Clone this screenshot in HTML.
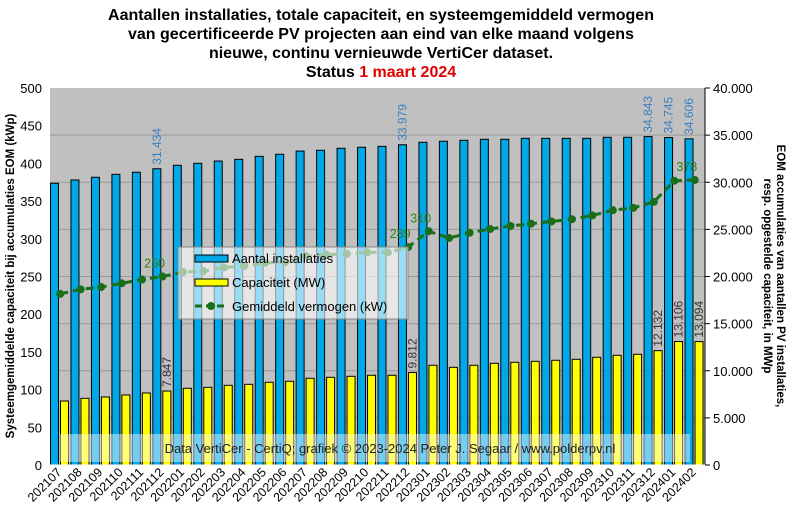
<!DOCTYPE html>
<html><head><meta charset="utf-8"><style>
body{margin:0;background:#fff;width:791px;height:517px;overflow:hidden}
svg{display:block;font-family:"Liberation Sans","DejaVu Sans",sans-serif}
</style></head><body>
<svg id="chart" width="791" height="517">
<g font-weight="bold" font-size="16" text-anchor="middle" fill="#000">
<text x="381" y="20">Aantallen installaties, totale capaciteit, en systeemgemiddeld vermogen</text>
<text x="381" y="39">van gecertificeerde PV projecten aan eind van elke maand volgens</text>
<text x="381" y="58">nieuwe, continu vernieuwde VertiCer dataset.</text>
<text x="381" y="77">Status <tspan fill="#e00000">1 maart 2024</tspan></text>
</g>
<rect x="50" y="88" width="655" height="377" fill="#c0c0c0"/>
<g id="grid"></g>
<g id="bars"></g>
<g id="line"></g>
<g id="axes"></g>
<g>
<rect x="178" y="247" width="230" height="72" fill="#fff" fill-opacity="0.6" stroke="#888"/>
<rect x="195" y="255" width="33" height="7" fill="#00a8e8" stroke="#000"/>
<text x="232" y="263" font-size="13">Aantal installaties</text>
<rect x="195" y="279" width="33" height="7" fill="#ffff00" stroke="#000"/>
<text x="232" y="287" font-size="13">Capaciteit (MW)</text>
<line x1="195" y1="306" x2="228" y2="306" stroke="#1a6e1a" stroke-width="3" stroke-dasharray="7,4"/>
<circle cx="211" cy="306" r="4" fill="#1a6e1a"/>
<text x="232" y="311" font-size="13">Gemiddeld vermogen (kW)</text>
</g>
<g>
<rect x="60" y="434" width="630" height="28" fill="#ffffff" fill-opacity="0.45"/>
<text x="390" y="453" font-size="13" text-anchor="middle" fill="#222">Data VertiCer  - CertiQ; grafiek  © 2023-2024  Peter J. Segaar / www.polderpv.nl</text>
</g>
<text transform="translate(14,276) rotate(-90)" font-size="11.5" font-weight="bold" text-anchor="middle">Systeemgemiddelde capaciteit bij accumulaties EOM (kWp)</text>
<g font-size="11.5" font-weight="bold" text-anchor="middle">
<text transform="translate(777,276) rotate(90)">EOM accumulaties van aantallen PV installaties,</text>
<text transform="translate(764,276) rotate(90)">resp. opgestelde capaciteit, in MWp</text>
</g>
</svg>
<script>
const categories=["202107","202108","202109","202110","202111","202112","202201","202202","202203","202204","202205","202206","202207","202208","202209","202210","202211","202212","202301","202302","202303","202304","202305","202306","202307","202308","202309","202310","202311","202312","202401","202402"];
const installaties=[29890,30240,30530,30840,31060,31434,31800,32010,32250,32430,32750,32970,33310,33390,33600,33710,33810,33979,34240,34350,34450,34560,34560,34660,34660,34660,34660,34770,34770,34843,34745,34606];
const capaciteit=[6790,7075,7215,7430,7640,7847,8140,8240,8455,8560,8775,8880,9200,9305,9410,9520,9520,9812,10580,10365,10580,10790,10895,11000,11110,11215,11430,11640,11745,12132,13106,13094];
const vermogen=[227,233,236,241,246,250,256,257,262,264,268,269,277,279,280,282,282,289,310,301,308,313,317,320,323,326,331,338,341,349,377,378];
const leftTicks=[0,50,100,150,200,250,300,350,400,450,500];
const rightTicks=[0,5000,10000,15000,20000,25000,30000,35000,40000];
const rightTickLabels=["0","5.000","10.000","15.000","20.000","25.000","30.000","35.000","40.000"];
const blueLabelIdx=[5,17,29,30,31];
const yellowLabelIdx=[5,17,29,30,31];
const lineLabelIdx=[5,17,18,31];
const NS="http://www.w3.org/2000/svg";
const X0=50,X1=705,Y0=465,Y1=88;
const step=(X1-X0)/categories.length;
function yL(v){return Y0-(v/500)*(Y0-Y1);}
function yR(v){return Y0-(v/40000)*(Y0-Y1);}
function xC(i){return X0+i*step;}
function fmt(v){return v>=1000?Math.floor(v/1000)+"."+String(v%1000).padStart(3,"0"):String(v);}
function mk(tag,attrs,parent,text){const e=document.createElementNS(NS,tag);for(const k in attrs)e.setAttribute(k,attrs[k]);if(text!==undefined)e.textContent=text;parent.appendChild(e);return e;}
const grid=document.getElementById("grid"),bars=document.getElementById("bars"),line=document.getElementById("line"),axes=document.getElementById("axes");
rightTicks.forEach((t,i)=>{
 if(t>0&&t<40000){const g=mk("line",{x1:X0,x2:X1,y1:yR(t),y2:yR(t),stroke:"#999","stroke-width":1},grid);
 
 }
 const tk=mk("line",{x1:X1,x2:X1+5,y1:yR(t),y2:yR(t),stroke:"#000"},axes);
 const lb=mk("text",{x:X1+8,y:yR(t)+5,"font-size":"13",fill:"#000"},axes,rightTickLabels[i]);
 
 
});
leftTicks.forEach(t=>{
 const lb=mk("text",{x:X0-8,y:yL(t)+5,"font-size":"13","text-anchor":"end",fill:"#000"},axes,String(t));
 
 
});
mk("line",{x1:X1,x2:X1,y1:Y1,y2:Y0,stroke:"#000"},axes);
mk("line",{x1:X0,x2:X1,y1:Y0,y2:Y0,stroke:"#fff"},axes);
categories.forEach((c,i)=>{
 const x=xC(i);
 const b=mk("rect",{x:x+0.5,y:yR(installaties[i]),width:8,height:Y0-yR(installaties[i]),fill:"#00a8e8",stroke:"#000","stroke-width":1},bars);
 
 
 const y=mk("rect",{x:x+10.5,y:yR(capaciteit[i]),width:8,height:Y0-yR(capaciteit[i]),fill:"#ffff00",stroke:"#000","stroke-width":1},bars);
 
 
 const xl=x+step/2+2, yl=Y0+8;
 const t=mk("text",{transform:`translate(${xl},${yl}) rotate(-45)`,"font-size":"12.5","text-anchor":"end",fill:"#000"},axes,c);
 
 
});
blueLabelIdx.forEach(i=>{
 const x=xC(i)+4.5+4,y=yR(installaties[i])-4;
 const t=mk("text",{transform:`translate(${x},${y}) rotate(-90)`,"font-size":"12",fill:"#3a7fc0"},bars,fmt(installaties[i]));
 
 
});
yellowLabelIdx.forEach(i=>{
 const x=xC(i)+14.5+4,y=yR(capaciteit[i])-4;
 const t=mk("text",{transform:`translate(${x},${y}) rotate(-90)`,"font-size":"12",fill:"#333"},bars,fmt(capaciteit[i]));
 
 
});
const pts=vermogen.map((v,i)=>[xC(i)+step/2,yL(v)]);
const pl=mk("polyline",{points:pts.map(p=>p.join(",")).join(" "),fill:"none",stroke:"#1a6e1a","stroke-width":3,"stroke-dasharray":"8,5"},line);


pts.forEach((p,i)=>{
 const c=mk("circle",{cx:p[0],cy:p[1],r:4,fill:"#1a6e1a"},line);
 
 
});
lineLabelIdx.forEach(i=>{
 const t=mk("text",{x:pts[i][0]-8,y:pts[i][1]-9,"font-size":"12.5","text-anchor":"middle",fill:"#2e7d1e"},line,String(vermogen[i]));
 
 
});
</script>
</body></html>
